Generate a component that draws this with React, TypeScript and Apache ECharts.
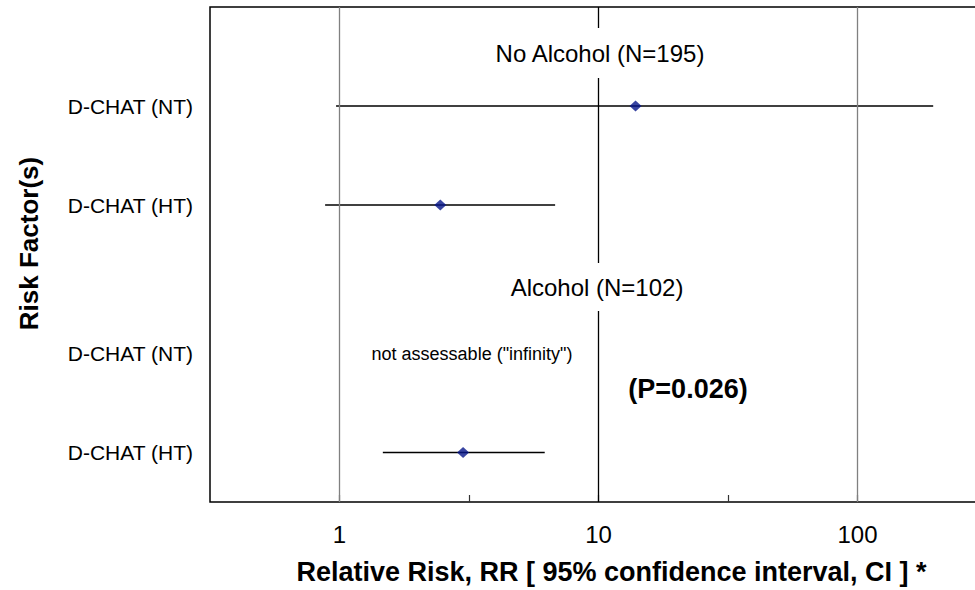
import React, { useEffect, useRef } from "react";
import * as echarts from "echarts";

// Risk factor rows, listed from top to bottom
const categories = ["D-CHAT (NT)", "D-CHAT (HT)", "D-CHAT (NT)", "D-CHAT (HT)"];
// vertical level of each row on the (inverted) y scale
const rowLevel = [1, 2, 3.5, 4.5];
// relative risk and 95% confidence interval per row (null = not assessable)
const rr: (number | null)[] = [13.9, 2.45, null, 3.0];
const ciLow: (number | null)[] = [0.97, 0.88, null, 1.47];
const ciHigh: (number | null)[] = [196, 6.8, null, 6.2];
// reference lines on the log scale
const gridValues = [1, 10, 100];
const gridColors = ["#808080", "#000000", "#808080"];

const FONT = "'Liberation Sans', Arial, Helvetica, sans-serif";
const log10 = (v: number) => Math.log10(v);

export default function App() {
  const ref = useRef<HTMLDivElement>(null);

  useEffect(() => {
    if (!ref.current) return;
    const chart = echarts.init(ref.current, null, { renderer: "svg" });

    const ciData: number[][] = [];
    const pointData: number[][] = [];
    rowLevel.forEach((lvl, i) => {
      const lo = ciLow[i];
      const hi = ciHigh[i];
      const v = rr[i];
      if (lo != null && hi != null) ciData.push([log10(lo), log10(hi), lvl]);
      if (v != null) pointData.push([log10(v), lvl]);
    });

    chart.setOption({
      animation: false,
      backgroundColor: "#ffffff",
      textStyle: { fontFamily: FONT },
      grid: {
        show: true,
        left: 210,
        top: 7,
        width: 777,
        height: 496,
        borderColor: "#000000",
        borderWidth: 1.5,
        backgroundColor: "transparent",
      },
      xAxis: {
        type: "value",
        min: -0.5,
        max: 2.5,
        interval: 0.5,
        name: "Relative Risk, RR [ 95% confidence interval, CI ] *",
        nameLocation: "middle",
        nameGap: 56,
        nameTextStyle: {
          fontFamily: FONT,
          fontSize: 27,
          fontWeight: "bold",
          color: "#000",
          padding: [0, 0, 0, 26],
        },
        axisLine: { show: false, onZero: false },
        axisTick: {
          show: true,
          inside: true,
          length: 7,
          lineStyle: { color: "#333", width: 1.2 },
        },
        axisLabel: {
          fontFamily: FONT,
          fontSize: 24,
          color: "#000",
          margin: 20,
          showMinLabel: false,
          showMaxLabel: false,
          formatter: (v: number) =>
            Math.abs(v - Math.round(v)) < 1e-9 ? String(Math.round(Math.pow(10, v))) : "",
        },
        splitLine: { show: false },
      },
      yAxis: {
        type: "value",
        inverse: true,
        min: 0,
        max: 5,
        interval: 0.5,
        name: "Risk Factor(s)",
        nameLocation: "middle",
        nameGap: 168,
        nameRotate: 90,
        nameTextStyle: {
          fontFamily: FONT,
          fontSize: 26,
          fontWeight: "bold",
          color: "#000",
          padding: [0, 0, 0, 22],
        },
        axisLine: { show: false, onZero: false },
        axisTick: { show: false },
        splitLine: { show: false },
        axisLabel: {
          fontFamily: FONT,
          fontSize: 21,
          color: "#000",
          margin: 17,
          formatter: (v: number) => {
            const idx = rowLevel.findIndex((l) => Math.abs(l - v) < 1e-9);
            return idx >= 0 ? categories[idx] : "";
          },
        },
      },
      series: [
        {
          type: "custom",
          name: "CI",
          z: 3,
          encode: { x: [0, 1], y: 2 },
          data: ciData,
          renderItem: (params: any, api: any) => {
            const y = api.value(2);
            const p1 = api.coord([api.value(0), y]);
            const p2 = api.coord([api.value(1), y]);
            return {
              type: "line",
              shape: { x1: p1[0], y1: p1[1], x2: p2[0], y2: p2[1] },
              style: { stroke: "#000", lineWidth: 1.5 },
            };
          },
          markLine: {
            silent: true,
            symbol: "none",
            label: { show: false },
            data: gridValues.map((g, i) => ({
              xAxis: log10(g),
              lineStyle: { color: gridColors[i], width: 1.3, type: "solid" },
            })),
          },
        },
        {
          type: "scatter",
          name: "RR",
          z: 4,
          symbol: "diamond",
          symbolSize: [12, 11],
          itemStyle: { color: "#06158a" },
          data: pointData,
        },
      ],
      graphic: [
        {
          type: "text",
          z: 100,
          x: 600,
          y: 53,
          style: {
            text: "No Alcohol (N=195)",
            fontFamily: FONT,
            fontSize: 24,
            fill: "#000",
            align: "center",
            verticalAlign: "middle",
            backgroundColor: "#fff",
            padding: [13, 6, 13, 6],
          },
        },
        {
          type: "text",
          z: 100,
          x: 597,
          y: 287,
          style: {
            text: "Alcohol (N=102)",
            fontFamily: FONT,
            fontSize: 24,
            fill: "#000",
            align: "center",
            verticalAlign: "middle",
            backgroundColor: "#fff",
            padding: [12, 6, 12, 6],
          },
        },
        {
          type: "text",
          z: 100,
          x: 472,
          y: 354,
          style: {
            text: 'not assessable ("infinity")',
            fontFamily: FONT,
            fontSize: 18,
            fill: "#000",
            align: "center",
            verticalAlign: "middle",
          },
        },
        {
          type: "text",
          z: 100,
          x: 688,
          y: 389,
          style: {
            text: "(P=0.026)",
            fontFamily: FONT,
            fontSize: 27,
            fontWeight: "bold",
            fill: "#000",
            align: "center",
            verticalAlign: "middle",
          },
        },
      ],
    });

    return () => chart.dispose();
  }, []);

  return (
    <div
      ref={ref}
      style={{ position: "fixed", left: 0, top: 0, width: 1000, height: 590, overflow: "hidden" }}
    />
  );
}
